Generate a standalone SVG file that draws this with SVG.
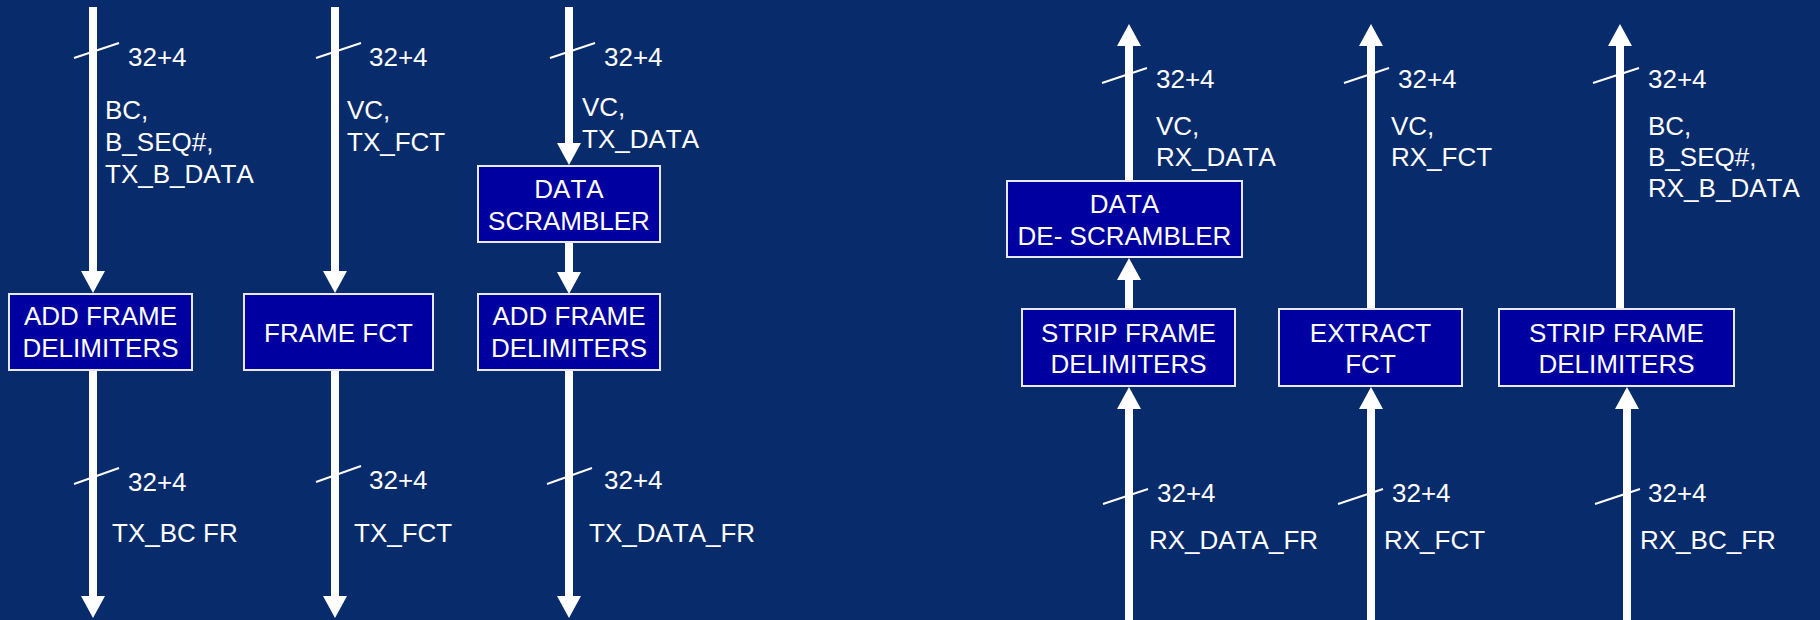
<svg xmlns="http://www.w3.org/2000/svg" width="1820" height="620" viewBox="0 0 1820 620">
<style>
.box{fill:#0000A0;stroke:#E6E8F2;stroke-width:2}
.t{font-family:"Liberation Sans",Arial,sans-serif;font-size:26px;fill:#FFFFFF;font-kerning:none}
.c{text-anchor:middle}
.shaft{stroke:#FFFFFF;stroke-width:8;fill:none}
.slash{stroke:#FFFFFF;stroke-width:2}
</style>
<defs>
<marker id="ah" viewBox="0 -12 22 24" refX="1" refY="0" markerWidth="22" markerHeight="24" markerUnits="userSpaceOnUse" orient="auto">
<path d="M0,-12 L22,0 L0,12 z" fill="#FFFFFF"/>
</marker>
</defs>
<rect x="0" y="0" width="1820" height="620" fill="#082B6B"/>
<g id="connectors">
<line class="shaft" x1="93" y1="7" x2="93" y2="272" marker-end="url(#ah)"/>
<line class="shaft" x1="93" y1="370" x2="93" y2="597" marker-end="url(#ah)"/>
<line class="shaft" x1="335" y1="7" x2="335" y2="272" marker-end="url(#ah)"/>
<line class="shaft" x1="335" y1="370" x2="335" y2="597" marker-end="url(#ah)"/>
<line class="shaft" x1="569" y1="7" x2="569" y2="144" marker-end="url(#ah)"/>
<line class="shaft" x1="569" y1="242" x2="569" y2="273" marker-end="url(#ah)"/>
<line class="shaft" x1="569" y1="370" x2="569" y2="597" marker-end="url(#ah)"/>
<line class="shaft" x1="1129" y1="620" x2="1129" y2="408" marker-end="url(#ah)"/>
<line class="shaft" x1="1129" y1="309" x2="1129" y2="279" marker-end="url(#ah)"/>
<line class="shaft" x1="1129" y1="181" x2="1129" y2="45" marker-end="url(#ah)"/>
<line class="shaft" x1="1371" y1="620" x2="1371" y2="408" marker-end="url(#ah)"/>
<line class="shaft" x1="1371" y1="309" x2="1371" y2="45" marker-end="url(#ah)"/>
<line class="shaft" x1="1620" y1="309" x2="1620" y2="45" marker-end="url(#ah)"/>
<line class="shaft" x1="1627" y1="620" x2="1627" y2="408" marker-end="url(#ah)"/>
<line class="slash" x1="74" y1="58" x2="119" y2="43"/>
<line class="slash" x1="316" y1="58" x2="361" y2="43"/>
<line class="slash" x1="550" y1="58" x2="595" y2="43"/>
<line class="slash" x1="74" y1="484" x2="119" y2="468"/>
<line class="slash" x1="316" y1="482" x2="361" y2="466"/>
<line class="slash" x1="547" y1="484" x2="592" y2="468"/>
<line class="slash" x1="1102" y1="83" x2="1147" y2="68"/>
<line class="slash" x1="1344" y1="83" x2="1389" y2="68"/>
<line class="slash" x1="1593" y1="83" x2="1639" y2="68"/>
<line class="slash" x1="1103" y1="504" x2="1148" y2="489"/>
<line class="slash" x1="1338" y1="504" x2="1383" y2="489"/>
<line class="slash" x1="1595" y1="504" x2="1640" y2="489"/>
<text class="t" x="128" y="66">32+4</text>
<text class="t" x="369" y="66">32+4</text>
<text class="t" x="604" y="66">32+4</text>
<text class="t" x="128" y="491">32+4</text>
<text class="t" x="369" y="489">32+4</text>
<text class="t" x="604" y="489">32+4</text>
<text class="t" x="1156" y="88">32+4</text>
<text class="t" x="1398" y="88">32+4</text>
<text class="t" x="1648" y="88">32+4</text>
<text class="t" x="1157" y="502">32+4</text>
<text class="t" x="1392" y="502">32+4</text>
<text class="t" x="1648" y="502">32+4</text>
<text class="t" x="105" y="119">BC,</text>
<text class="t" x="105" y="151">B_SEQ#,</text>
<text class="t" x="105" y="183">TX_B_DATA</text>
<text class="t" x="347" y="119">VC,</text>
<text class="t" x="347" y="151">TX_FCT</text>
<text class="t" x="582" y="116">VC,</text>
<text class="t" x="582" y="148">TX_DATA</text>
<text class="t" x="112" y="542">TX_BC FR</text>
<text class="t" x="354" y="542">TX_FCT</text>
<text class="t" x="589" y="542">TX_DATA_FR</text>
<text class="t" x="1156" y="135">VC,</text>
<text class="t" x="1156" y="166">RX_DATA</text>
<text class="t" x="1391" y="135">VC,</text>
<text class="t" x="1391" y="166">RX_FCT</text>
<text class="t" x="1648" y="135">BC,</text>
<text class="t" x="1648" y="166">B_SEQ#,</text>
<text class="t" x="1648" y="197">RX_B_DATA</text>
<text class="t" x="1149" y="549">RX_DATA_FR</text>
<text class="t" x="1384" y="549">RX_FCT</text>
<text class="t" x="1640" y="549">RX_BC_FR</text>
</g>
<g id="tx_add_frame_bc">
<rect class="box" x="9" y="294" width="183" height="76"/>
<text class="t c" x="100.5" y="325">ADD FRAME</text>
<text class="t c" x="100.5" y="357">DELIMITERS</text>
</g>
<g id="tx_frame_fct">
<rect class="box" x="244" y="294" width="189" height="76"/>
<text class="t c" x="338.5" y="342">FRAME FCT</text>
</g>
<g id="tx_data_scrambler">
<rect class="box" x="478" y="166" width="182" height="76"/>
<text class="t c" x="569" y="198">DATA</text>
<text class="t c" x="569" y="230">SCRAMBLER</text>
</g>
<g id="tx_add_frame_data">
<rect class="box" x="478" y="294" width="182" height="76"/>
<text class="t c" x="569" y="325">ADD FRAME</text>
<text class="t c" x="569" y="357">DELIMITERS</text>
</g>
<g id="rx_data_descrambler">
<rect class="box" x="1007" y="181" width="235" height="76"/>
<text class="t c" x="1124.5" y="213">DATA</text>
<text class="t c" x="1124.5" y="245">DE- SCRAMBLER</text>
</g>
<g id="rx_strip_frame_data">
<rect class="box" x="1022" y="309" width="213" height="77"/>
<text class="t c" x="1128.5" y="342">STRIP FRAME</text>
<text class="t c" x="1128.5" y="373">DELIMITERS</text>
</g>
<g id="rx_extract_fct">
<rect class="box" x="1279" y="309" width="183" height="77"/>
<text class="t c" x="1370.5" y="342">EXTRACT</text>
<text class="t c" x="1370.5" y="373">FCT</text>
</g>
<g id="rx_strip_frame_bc">
<rect class="box" x="1499" y="309" width="235" height="77"/>
<text class="t c" x="1616.5" y="342">STRIP FRAME</text>
<text class="t c" x="1616.5" y="373">DELIMITERS</text>
</g>
</svg>
